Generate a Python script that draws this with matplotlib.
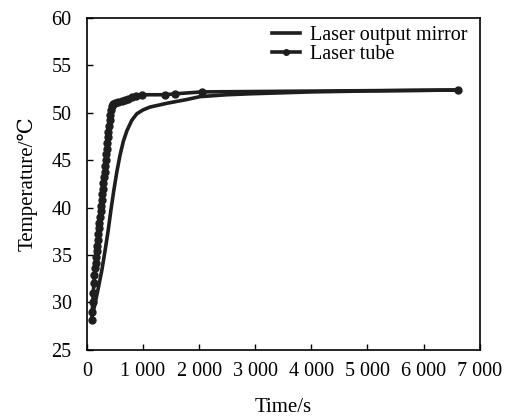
import matplotlib
matplotlib.use("Agg")
import matplotlib.pyplot as plt
from matplotlib.ticker import FuncFormatter

plt.rcParams['font.family'] = ['Liberation Serif', 'DejaVu Serif']

# Laser output mirror
mirror_t = [90, 150, 210, 267, 320, 380, 430, 480, 535, 590, 650, 713, 800, 891, 1000, 1123, 1426, 1783, 2014, 2496, 2906, 4000, 5000, 6610]
mirror_T = [28.4, 30.0, 31.7, 33.4, 35.3, 37.6, 39.8, 41.8, 43.8, 45.5, 47.0, 48.1, 49.2, 49.9, 50.3, 50.6, 51.0, 51.4, 51.7, 51.9, 52.0, 52.2, 52.3, 52.4]

# Laser tube
tube_t = [85, 95, 105, 115, 125, 135, 145, 155, 165, 175, 185, 195, 205, 215, 225, 235, 245, 255, 265, 275,
          285, 295, 305, 315, 325, 335, 345, 355, 365, 375, 385, 395, 405, 415, 425, 440, 460, 500, 560, 620,
          680, 740, 800, 880, 980, 1390, 1570, 2050, 6610]
tube_T = [28.2, 29.0, 30.0, 31.0, 32.0, 32.9, 33.6, 34.2, 34.8, 35.4, 36.0, 36.6, 37.2, 37.8, 38.4, 39.0, 39.6, 40.2, 40.8, 41.4,
          42.0, 42.6, 43.2, 43.8, 44.4, 45.0, 45.6, 46.2, 46.8, 47.4, 48.0, 48.6, 49.2, 49.8, 50.3, 50.7, 50.9, 51.0, 51.1, 51.2,
          51.3, 51.5, 51.7, 51.8, 51.9, 51.9, 52.0, 52.2, 52.4]

xticks = [0, 1000, 2000, 3000, 4000, 5000, 6000, 7000]
yticks = [25, 30, 35, 40, 45, 50, 55, 60]

fig = plt.figure(figsize=(5.05, 4.17), dpi=100)
ax = fig.add_axes([0.172, 0.161, 0.778, 0.796])

col = '#1e1e1e'
ax.plot(mirror_t, mirror_T, color=col, lw=2.6, label='Laser output mirror')
ax.plot(tube_t, tube_T, color=col, lw=2.6, marker='o', ms=5, label='Laser tube')

ax.set_xlim(0, 7000)
ax.set_ylim(25, 60)
ax.set_xticks(xticks)
ax.set_yticks(yticks)

def fmt(v, pos):
    v = int(round(v))
    if v >= 1000:
        return f"{v // 1000} {v % 1000:03d}"
    return str(v)

ax.xaxis.set_major_formatter(FuncFormatter(fmt))
ax.tick_params(direction='in', length=4, width=1, labelsize=14.5, colors='black')
ax.tick_params(axis='x', pad=9)
ax.tick_params(axis='y', pad=11)
for s in ax.spines.values():
    s.set_linewidth(1.2)
    s.set_color('black')

ax.set_xlabel('Time/s', fontsize=15, labelpad=12)
ax.set_ylabel('Temperature/℃', fontsize=15, labelpad=10)

leg = ax.legend(loc='upper right', frameon=False, fontsize=14.5, handlelength=1.4,
                handletextpad=0.5, labelspacing=0.0, borderaxespad=0.0,
                markerscale=0.8, bbox_to_anchor=(0.99, 1.0))

fig.savefig('out.png', dpi=100)
